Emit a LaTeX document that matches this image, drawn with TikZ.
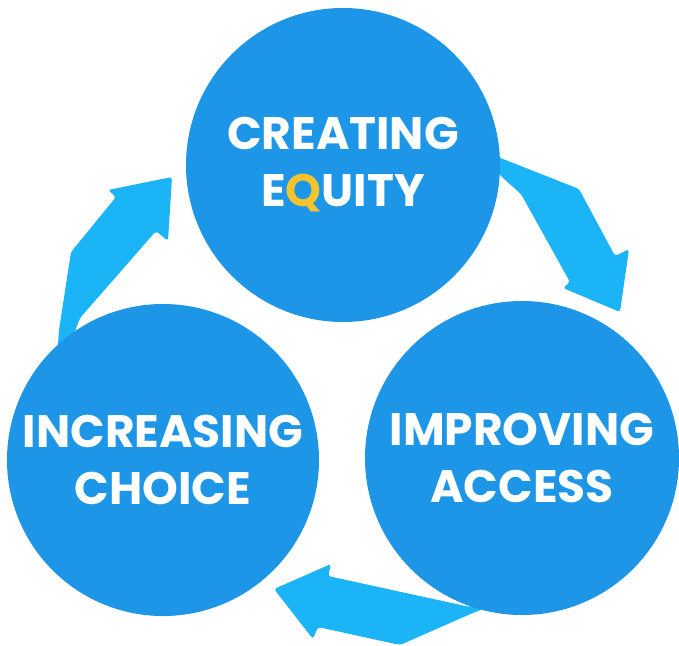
\documentclass[tikz,border=0pt]{standalone}
\usepackage{fontspec}
\setmainfont{Poppins}
\usepackage{tikz}
\definecolor{discblue}{RGB}{29,150,232}
\definecolor{flowblue}{RGB}{26,180,247}
\definecolor{qgold}{RGB}{245,196,45}

\begin{document}
\begin{tikzpicture}[
    x=1pt, y=-1pt,
    disc/.style={circle, fill=discblue, minimum size=314pt, inner sep=0pt, text=white, font=\fontsize{45.5}{57}\selectfont\bfseries, align=center},
    flow/.style={fill=flowblue, rounded corners=3pt},
]
\useasboundingbox (0,0) rectangle (679,645);

% Arrows (tails run under the circles)
\fill[flow] (485,160) -- (470,146) -- (579,189) -- (615,256) -- (629,249) -- (620,312)
    -- (563,288) -- (570,282) -- (521,194) -- (503,178) -- cycle;
\fill[flow] (505,590) -- (470,607) -- (328,576) -- (331,564) -- (274,589) -- (313,639)
    -- (318,627) -- (400,645) -- (475,612) -- (510,600) -- cycle;
\fill[flow] (55,385) -- (59,330) -- (71,252) -- (116,197) -- (108,190) -- (172,177)
    -- (168,241) -- (156,231) -- (80,318) -- (62,365) -- cycle;

% Circles
\node[disc] (equity) at (343,165) {CREATING\\E\textcolor{qgold}{Q}UITY};
\node[disc, minimum size=312pt] (choice) at (163,460) {INCREASING\\CHOICE};
\node[disc] (access) at (522,458) {IMPROVING\\ACCESS};
\end{tikzpicture}
\end{document}
